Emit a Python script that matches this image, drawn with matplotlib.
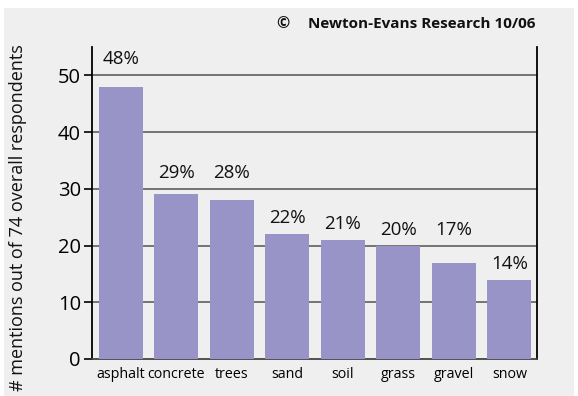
import matplotlib
matplotlib.use("Agg")
import matplotlib.pyplot as plt
from matplotlib.patches import Rectangle

# Survey mentions by surface type
categories = ["asphalt", "concrete", "trees", "sand", "soil", "grass", "gravel", "snow"]
values = [48, 29, 28, 22, 21, 20, 17, 14]
y_ticks = [0, 10, 20, 30, 40, 50]

BG = "#eeefee"
BAR = "#9994c8"
FONT = ["Open Sans", "DejaVu Sans"]
plt.rcParams["font.family"] = FONT

fig = plt.figure(figsize=(5.78, 3.96), dpi=100, facecolor="white")
# grey panel with a thin white margin along the top and sides
fig.patches.append(Rectangle((4 / 578, 0), 570 / 578, 388 / 396,
                             transform=fig.transFigure, facecolor=BG,
                             edgecolor="none", zorder=-10))

ax = fig.add_axes([92 / 578, 37 / 396, 445 / 578, 312 / 396])
ax.set_facecolor(BG)

x = list(range(len(categories)))
ax.bar(x, values, width=0.79, color=BAR, zorder=3)

ax.set_xlim(-0.52, 7.5)
ax.set_ylim(0, 55)
ax.set_yticks(y_ticks)
ax.set_yticklabels([str(t) for t in y_ticks], fontsize=14.5)
ax.set_xticks(x)
ax.set_xticklabels(categories, fontsize=10.3)
ax.tick_params(axis="x", length=0, pad=6)
ax.tick_params(axis="y", length=6, width=1.2, color="black", pad=2)

for t in y_ticks[1:]:
    ax.axhline(t, color="#6a6a6a", lw=1.3, zorder=1)

ax.spines["top"].set_visible(False)
for side in ("left", "right"):
    ax.spines[side].set_color("black")
    ax.spines[side].set_linewidth(1.3)
ax.spines["bottom"].set_color("#444444")
ax.spines["bottom"].set_linewidth(1.3)

# percentage labels, lifted over a gridline when it sits just above the bar
for xi, v in zip(x, values):
    base = v
    for t in y_ticks:
        if v <= t < v + 4:
            base = t
    ax.text(xi, base + 2.8, f"{v}%", ha="center", va="center",
            fontsize=13.5, color="#111111", zorder=4)

fig.text(18 / 578, 1 - 218 / 396,
         "# mentions out of 74 overall respondents", rotation=90,
         ha="center", va="center", fontsize=13, color="#111111")

fig.text(283 / 578, 1 - 24 / 396, "\u00a9", ha="center", va="center",
         fontsize=11.5, fontweight="bold", color="#111111")
fig.text(308 / 578, 1 - 24 / 396, "Newton-Evans Research 10/06",
         ha="left", va="center", fontsize=11, fontweight="bold",
         color="#111111")

fig.savefig("out.png", dpi=100, facecolor="white")
